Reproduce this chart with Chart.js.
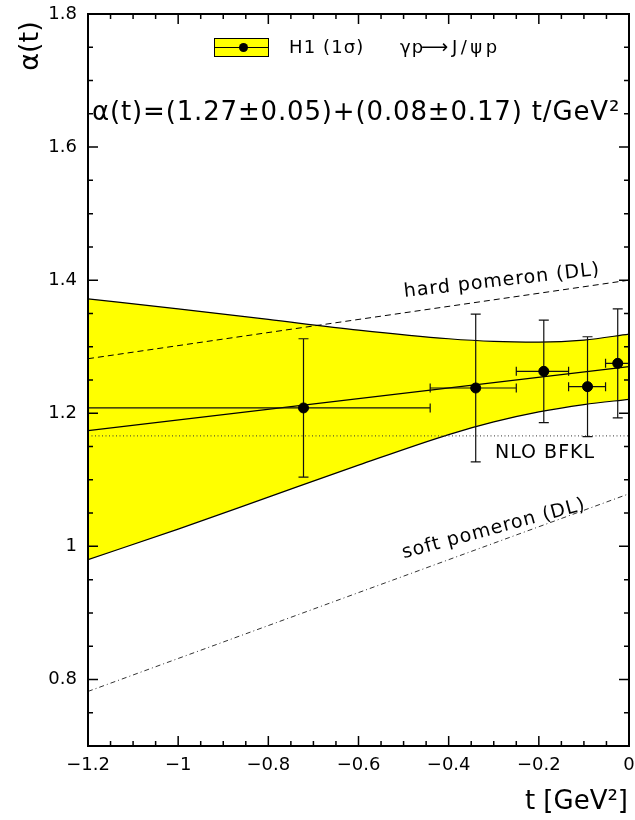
<!DOCTYPE html>
<html><head><meta charset="utf-8">
<script src="https://cdn.jsdelivr.net/npm/chart.js@4/dist/chart.umd.min.js"></script>
<style>html,body{margin:0;padding:0;background:#fff;}#wrap{width:635px;height:820px;position:relative;}</style>
</head><body><div id="wrap"><canvas id="c" width="635" height="820" style="width:635px;height:820px"></canvas></div>
<script>
// ---- tick values and labels ----
const xTicks = [-1.2, -1, -0.8, -0.6, -0.4, -0.2, 0];
const xTickLabels = ['\u22121.2', '\u22121', '\u22120.8', '\u22120.6', '\u22120.4', '\u22120.2', '0'];
const yTicks = [0.8, 1, 1.2, 1.4, 1.6, 1.8];
const yTickLabels = ['0.8', '1', '1.2', '1.4', '1.6', '1.8'];

// ---- H1 data points ----
const pointT = [-0.722, -0.340, -0.189, -0.092, -0.025];
const pointAlpha = [1.208, 1.238, 1.263, 1.240, 1.275];
const pointErrAlpha = [0.104, 0.111, 0.077, 0.075, 0.082];
const pointTLow = [-1.2, -0.441, -0.250, -0.134, -0.052];
const pointTHigh = [-0.441, -0.250, -0.134, -0.052, 0];

// ---- 1 sigma band of the fit ----
const bandT = [-1.2, -1.0, -0.8, -0.6, -0.4, -0.3, -0.2, -0.1, 0];
const bandUpper = [1.372, 1.357, 1.341, 1.325, 1.312, 1.308, 1.307, 1.310, 1.319];
const bandLower = [0.980, 1.026, 1.074, 1.122, 1.168, 1.187, 1.202, 1.213, 1.221];

// ---- straight lines ----
const lineT = [-1.2, 0];
const fitAlpha = [1.174, 1.270];
const hardAlpha = [1.282, 1.400];
const softAlpha = [0.782, 1.079];
const bfklAlpha = [1.166, 1.166];

const FONT = "'DejaVu Sans', 'Liberation Sans', sans-serif";
const xy = (xs, ys) => xs.map((x, i) => ({x: x, y: ys[i]}));

function txt(ctx, s, x, y, size, opt) {
  opt = opt || {};
  ctx.save();
  ctx.translate(x, y);
  if (opt.rot) ctx.rotate(opt.rot * Math.PI / 180);
  ctx.font = size + 'px ' + FONT;
  ctx.fillStyle = '#000';
  ctx.textAlign = opt.align || 'left';
  ctx.textBaseline = opt.base || 'middle';
  try { ctx.letterSpacing = (opt.ls || 0) + 'px'; } catch (e) {}
  ctx.fillText(s, 0, 0);
  ctx.restore();
}

const decor = {
  id: 'decor',
  beforeDatasetDraw(chart, args) {
    if (args.index !== 6) return;
    const ctx = chart.ctx, xs = chart.scales.x, ys = chart.scales.y;
    ctx.save();
    ctx.strokeStyle = '#111';
    ctx.lineWidth = 1.2;
    for (let i = 0; i < pointT.length; i++) {
      const px = xs.getPixelForValue(pointT[i]);
      const py = ys.getPixelForValue(pointAlpha[i]);
      const top = ys.getPixelForValue(pointAlpha[i] + pointErrAlpha[i]);
      const bot = ys.getPixelForValue(pointAlpha[i] - pointErrAlpha[i]);
      const l = xs.getPixelForValue(pointTLow[i]);
      const r = xs.getPixelForValue(pointTHigh[i]);
      ctx.beginPath();
      ctx.moveTo(px, top); ctx.lineTo(px, bot);
      ctx.moveTo(px - 5, top); ctx.lineTo(px + 5, top);
      ctx.moveTo(px - 5, bot); ctx.lineTo(px + 5, bot);
      ctx.moveTo(l, py); ctx.lineTo(r, py);
      ctx.moveTo(l, py - 4.5); ctx.lineTo(l, py + 4.5);
      ctx.moveTo(r, py - 4.5); ctx.lineTo(r, py + 4.5);
      ctx.stroke();
    }
    ctx.restore();
  },
  afterDatasetsDraw(chart) {
    const ctx = chart.ctx, a = chart.chartArea, xs = chart.scales.x, ys = chart.scales.y;
    // text labels on the plot
    txt(ctx, 'hard pomeron (DL)', 502, 281, 19, {align: 'center', rot: -6.5, ls: 1});
    txt(ctx, 'soft pomeron (DL)', 494, 529, 19, {align: 'center', rot: -15, ls: 1});
    txt(ctx, 'NLO BFKL', 495, 453, 19, {ls: 1});
    txt(ctx, '\u03b1(t)=(1.27\u00b10.05)+(0.08\u00b10.17) t/GeV\u00b2', 92, 113, 26, {ls: 0.85});
    // legend
    ctx.save();
    ctx.fillStyle = '#ffff00';
    ctx.fillRect(214.5, 38.5, 54, 18);
    ctx.strokeStyle = '#000';
    ctx.lineWidth = 1;
    ctx.strokeRect(214.5, 38.5, 54, 18);
    ctx.beginPath(); ctx.moveTo(214.5, 47.5); ctx.lineTo(268.5, 47.5); ctx.stroke();
    ctx.fillStyle = '#000';
    ctx.beginPath(); ctx.arc(243.5, 47.5, 4.5, 0, Math.PI * 2); ctx.fill();
    ctx.restore();
    txt(ctx, 'H1 (1\u03c3)', 289, 48, 18, {ls: 1.1});
    txt(ctx, '\u03b3p', 400, 48, 18, {ls: 1});
    txt(ctx, '\u27f6', 421, 48, 19, {});
    txt(ctx, 'J/\u03c8p', 452, 48, 18, {ls: 3.5});
    // frame
    ctx.save();
    ctx.strokeStyle = '#000';
    ctx.lineWidth = 2;
    ctx.strokeRect(a.left, a.top, a.right - a.left, a.bottom - a.top);
    // inward ticks
    ctx.lineWidth = 1.5;
    ctx.beginPath();
    for (let k = 0; k <= 24; k++) {
      const v = -1.2 + k * 0.05;
      const p = xs.getPixelForValue(v);
      const len = (k % 4 === 0) ? 10 : 5;
      ctx.moveTo(p, a.bottom); ctx.lineTo(p, a.bottom - len);
      ctx.moveTo(p, a.top); ctx.lineTo(p, a.top + len);
    }
    for (let k = 0; k <= 22; k++) {
      const v = 0.7 + k * 0.05;
      const p = ys.getPixelForValue(v);
      const len = ((k + 2) % 4 === 0) ? 10 : 5;
      ctx.moveTo(a.left, p); ctx.lineTo(a.left + len, p);
      ctx.moveTo(a.right, p); ctx.lineTo(a.right - len, p);
    }
    ctx.stroke();
    ctx.restore();
    // axis titles
    txt(ctx, '\u03b1(t)', 31, 46, 27, {align: 'center', rot: -90});
    txt(ctx, 't [GeV\u00b2]', 628, 802, 26, {align: 'right'});
  }
};

new Chart(document.getElementById('c'), {
  type: 'line',
  data: {
    datasets: [
      {label: 'band upper', data: xy(bandT, bandUpper), borderColor: '#000', borderWidth: 1.2,
       backgroundColor: '#ffff00', fill: '+1', pointRadius: 0, cubicInterpolationMode: 'monotone', order: 6},
      {label: 'band lower', data: xy(bandT, bandLower), borderColor: '#000', borderWidth: 1.2,
       fill: false, pointRadius: 0, cubicInterpolationMode: 'monotone', order: 5},
      {label: 'hard pomeron (DL)', data: xy(lineT, hardAlpha), borderColor: '#000', borderWidth: 1,
       borderDash: [6, 4], fill: false, pointRadius: 0, order: 4},
      {label: 'soft pomeron (DL)', data: xy(lineT, softAlpha), borderColor: '#333', borderWidth: 1,
       borderDash: [5, 3, 1, 3], fill: false, pointRadius: 0, order: 3},
      {label: 'NLO BFKL', data: xy(lineT, bfklAlpha), borderColor: '#333', borderWidth: 1,
       borderDash: [1, 2.5], fill: false, pointRadius: 0, order: 2},
      {label: 'fit', data: xy(lineT, fitAlpha), borderColor: '#000', borderWidth: 1.2,
       fill: false, pointRadius: 0, order: 1},
      {type: 'scatter', label: 'H1 (1\u03c3)', data: xy(pointT, pointAlpha), pointRadius: 5,
       backgroundColor: '#000', borderColor: '#000', showLine: false, order: 0}
    ]
  },
  options: {
    responsive: false, animation: false, devicePixelRatio: 1,
    layout: {padding: {top: 14, right: 5, left: 0, bottom: 0}},
    plugins: {legend: {display: false}, tooltip: {enabled: false}, filler: {drawTime: 'beforeDatasetsDraw'}},
    scales: {
      x: {
        type: 'linear', min: -1.2, max: 0,
        afterFit(s) { s.height = 74; s.paddingLeft = 0; s.paddingRight = 0; },
        afterBuildTicks(s) { s.ticks = xTicks.map(v => ({value: v})); },
        ticks: {callback: (v) => xTickLabels[xTicks.indexOf(v)], font: {family: FONT, size: 18},
                color: '#000', padding: 9, maxRotation: 0, minRotation: 0, autoSkip: false},
        grid: {display: false, drawTicks: false}, border: {display: false}
      },
      y: {
        type: 'linear', min: 0.7, max: 1.8,
        afterFit(s) { s.width = 88; s.paddingTop = 0; s.paddingBottom = 0; },
        afterBuildTicks(s) { s.ticks = yTicks.map(v => ({value: v})); },
        ticks: {callback: (v) => yTickLabels[yTicks.indexOf(v)], font: {family: FONT, size: 18},
                color: '#000', padding: 11, autoSkip: false},
        grid: {display: false, drawTicks: false}, border: {display: false}
      }
    }
  },
  plugins: [decor]
});
</script></body></html>
